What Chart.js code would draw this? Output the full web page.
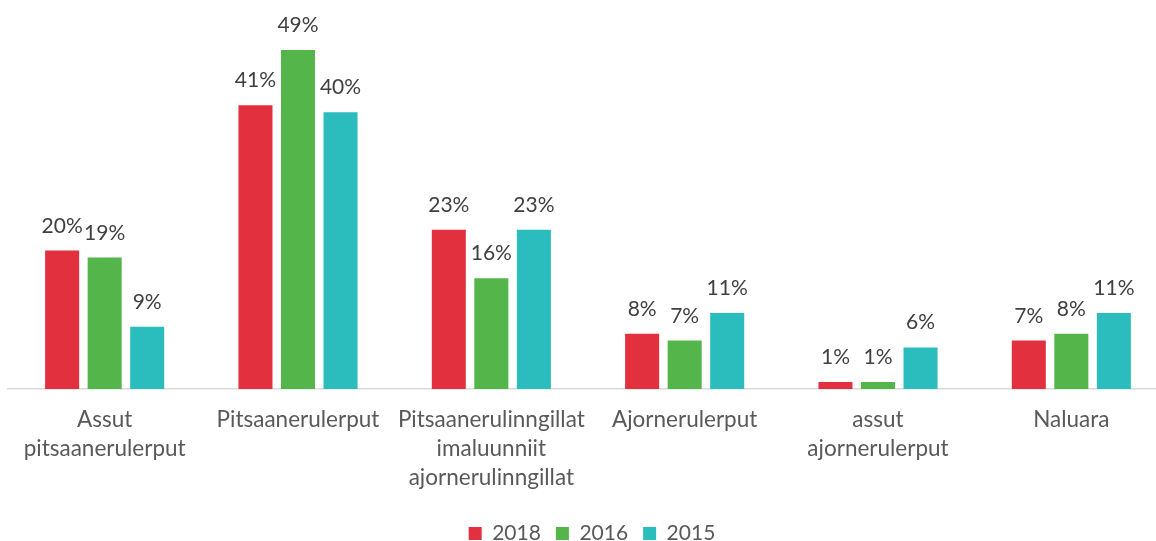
<!DOCTYPE html>
<html>
<head>
<meta charset="utf-8">
<script src="https://cdn.jsdelivr.net/npm/chart.js@4.4.1/dist/chart.umd.min.js"></script>
<style>
  html, body { margin: 0; padding: 0; background: #ffffff; overflow: hidden; }
  #wrap { position: relative; width: 1184px; height: 554px; }
</style>
</head>
<body>
<div id="wrap"><canvas id="c" width="1184" height="554"></canvas></div>
<script>
const categories = [
  ["Assut", "pitsaanerulerput"],
  ["Pitsaanerulerput"],
  ["Pitsaanerulinngillat", "imaluunniit", "ajornerulinngillat"],
  ["Ajornerulerput"],
  ["assut", "ajornerulerput"],
  ["Naluara"]
];
const seriesNames = ["2018", "2016", "2015"];
const values2018 = [20, 41, 23, 8, 1, 7];
const values2016 = [19, 49, 16, 7, 1, 8];
const values2015 = [9, 40, 23, 11, 6, 11];
const colors = ["#E2303E", "#54B64A", "#2BBDBD"];

const FONT = "Lato, 'Open Sans', sans-serif";

const valueLabels = {
  id: "valueLabels",
  afterDatasetsDraw(chart) {
    const ctx = chart.ctx;
    ctx.save();
    ctx.font = "21px " + FONT;
    ctx.fillStyle = "#404040";
    ctx.textAlign = "center";
    ctx.textBaseline = "alphabetic";
    chart.data.datasets.forEach((ds, di) => {
      const meta = chart.getDatasetMeta(di);
      meta.data.forEach((el, i) => {
        ctx.fillText(ds.data[i] + "%", el.x, el.y - 18);
      });
    });
    ctx.restore();
  }
};

new Chart(document.getElementById("c"), {
  type: "bar",
  data: {
    labels: categories,
    datasets: [
      { label: seriesNames[0], data: values2018, backgroundColor: colors[0] },
      { label: seriesNames[1], data: values2016, backgroundColor: colors[1] },
      { label: seriesNames[2], data: values2015, backgroundColor: colors[2] }
    ]
  },
  options: {
    responsive: false,
    animation: false,
    datasets: {
      bar: { categoryPercentage: 0.66, barPercentage: 0.8 }
    },
    layout: { padding: { top: 43, bottom: 0, left: 0, right: 0 } },
    plugins: {
      legend: {
        position: "bottom",
        labels: {
          boxWidth: 13,
          boxHeight: 13,
          padding: 15,
          color: "#595959",
          font: { family: FONT, size: 21 }
        }
      },
      tooltip: { enabled: false }
    },
    scales: {
      x: {
        grid: { display: false, drawTicks: false },
        border: { display: true, color: "#D9D9D9", width: 1.5 },
        ticks: {
          color: "#595959",
          padding: 16,
          maxRotation: 0,
          autoSkip: false,
          font: { family: FONT, size: 22.5, lineHeight: 29 / 22.5 }
        }
      },
      y: {
        position: "left",
        min: 0,
        max: 50,
        grid: { display: false, drawTicks: false },
        border: { display: false },
        ticks: { display: false },
        afterFit(s) { s.width = 8; }
      },
      y2: {
        position: "right",
        min: 0,
        max: 50,
        grid: { display: false, drawTicks: false },
        border: { display: false },
        ticks: { display: false },
        afterFit(s) { s.width = 16; }
      }
    }
  },
  plugins: [valueLabels]
});
</script>
</body>
</html>
